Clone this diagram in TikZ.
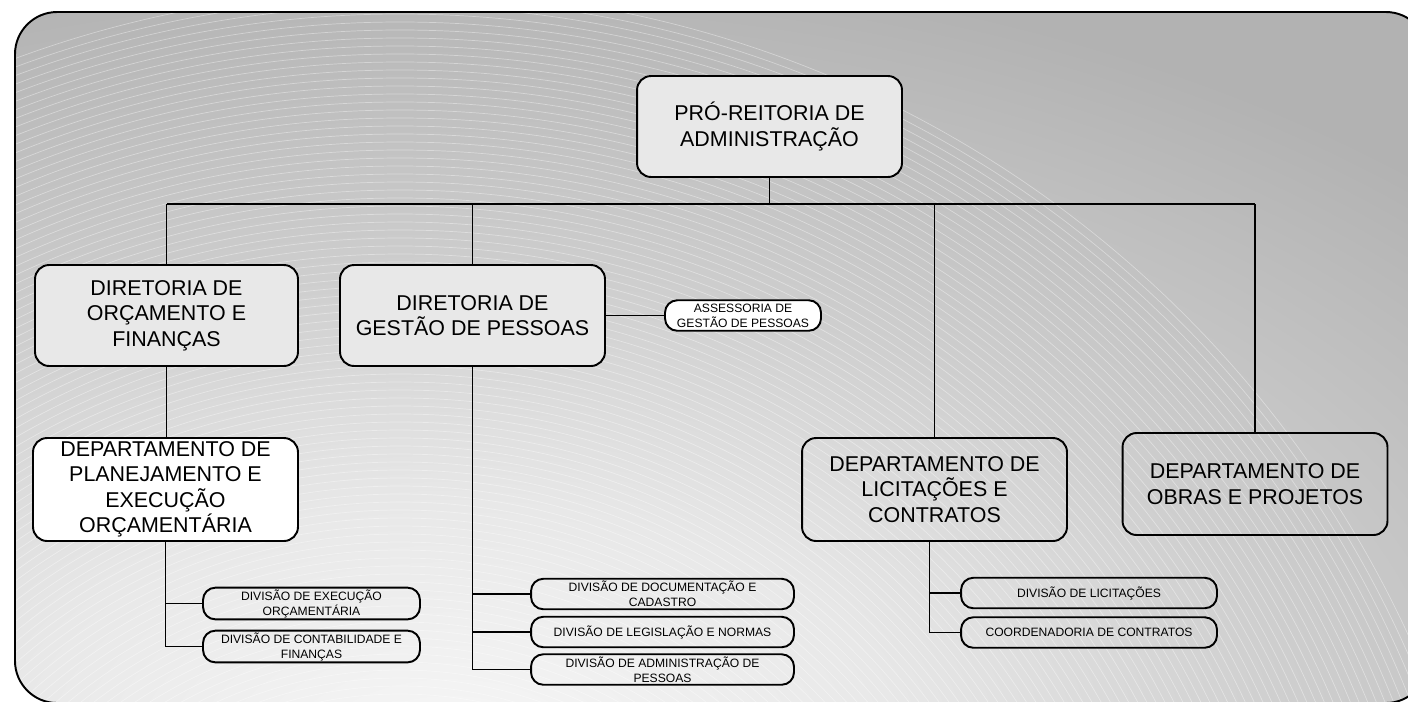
\documentclass[tikz,border=0pt]{standalone}
\usepackage{fontspec}
\setmainfont{Liberation Sans}
\pgfdeclareradialshading{bgshade}{\pgfpoint{0bp}{0bp}}{color(0bp)=(black!3); color(8bp)=(black!9); color(15bp)=(black!19); color(25bp)=(black!30); color(50bp)=(black!30)}
\begin{document}
\begin{tikzpicture}[x=0.02cm,y=-0.02cm,
  big box/.style={rectangle,rounded corners=8pt,draw,line width=1.1pt,minimum width=5.3cm,minimum height=2.02cm,align=center,inner sep=2pt,font=\fontsize{12.2}{14.5}\selectfont},
  small box/.style={rectangle,rounded corners=7pt,draw,line width=1.1pt,minimum height=0.61cm,align=center,inner sep=1pt,font=\fontsize{6.9}{8.5}\selectfont},
  link/.style={line width=1.1pt}]
  \useasboundingbox (0,0) rectangle (1408,701);
  \begin{scope}
    \clip[rounded corners=24pt] (15,12) rectangle (1428,703);
    \fill[black!30] (0,0) rectangle (1408,701);
    \shade[shading=bgshade] (450,760) ellipse [x radius=1400, y radius=800];
    \foreach \r in {350,358,...,1110}
      \draw[white,opacity=0.38,line width=0.4pt] (400,1100) circle [radius=\r];
  \end{scope}
  \draw[line width=1.1pt,rounded corners=24pt] (15,12) rectangle (1428,703);

  \node[big box,fill=black!9] (pro) at (769.5,126.5) {PRÓ-REITORIA DE\\ADMINISTRAÇÃO};
  \node[big box,fill=black!9,minimum width=5.26cm] (dof) at (166.5,315.5) {DIRETORIA DE\\ORÇAMENTO E\\FINANÇAS};
  \node[big box,fill=black!9] (dgp) at (472.5,315.5) {DIRETORIA DE\\GESTÃO DE PESSOAS};
  \node[small box,fill=white,minimum width=3.12cm] (agp) at (743,315.5) {ASSESSORIA DE\\GESTÃO DE PESSOAS};
  \node[big box,fill=white,minimum height=2.06cm] (dpe) at (165.5,489.5) {DEPARTAMENTO DE\\PLANEJAMENTO E\\EXECUÇÃO\\ORÇAMENTÁRIA};
  \node[big box,minimum height=2.06cm] (dlc) at (934.5,489.5) {DEPARTAMENTO DE\\LICITAÇÕES E\\CONTRATOS};
  \node[big box,minimum height=2.04cm] (dop) at (1255,484) {DEPARTAMENTO DE\\OBRAS E PROJETOS};

  \node[small box,minimum width=4.34cm] (deo) at (311.5,603.5) {DIVISÃO DE EXECUÇÃO\\ORÇAMENTÁRIA};
  \node[small box,minimum width=4.34cm] (dcf) at (311.5,646.5) {DIVISÃO DE CONTABILIDADE E\\FINANÇAS};
  \node[small box,minimum width=5.26cm] (ddc) at (662.5,594) {DIVISÃO DE DOCUMENTAÇÃO E\\CADASTRO};
  \node[small box,minimum width=5.26cm] (dln) at (662.5,632) {DIVISÃO DE LEGISLAÇÃO E NORMAS};
  \node[small box,minimum width=5.26cm] (dap) at (662.5,669.5) {DIVISÃO DE ADMINISTRAÇÃO DE\\PESSOAS};
  \node[small box,minimum width=5.12cm] (dli) at (1089,593) {DIVISÃO DE LICITAÇÕES};
  \node[small box,minimum width=5.12cm] (cco) at (1089,632.5) {COORDENADORIA DE CONTRATOS};

  \coordinate (bus) at (769,204);
  \draw[link] (dof.north |- bus) -- (dop.north |- bus);
  \draw[link] (pro.south) -- (pro.south |- bus);
  \foreach \n in {dof,dgp,dlc,dop}
    \draw[link] (\n.north) -- (\n.north |- bus);
  \draw[link] (dgp.east) -- (agp.west);
  \draw[link] (dof.south) -- (dof.south |- dpe.north);

  \draw[link] (dpe.south) |- (dcf.west);
  \draw[link] (dpe.south |- deo.west) -- (deo.west);
  \draw[link] (dgp.south) |- (dap.west);
  \foreach \n in {ddc,dln}
    \draw[link] (dgp.south |- \n.west) -- (\n.west);
  \coordinate (lct) at ([xshift=-0.1cm]dlc.south);
  \draw[link] (lct) |- (cco.west);
  \draw[link] (lct |- dli.west) -- (dli.west);
\end{tikzpicture}
\end{document}
